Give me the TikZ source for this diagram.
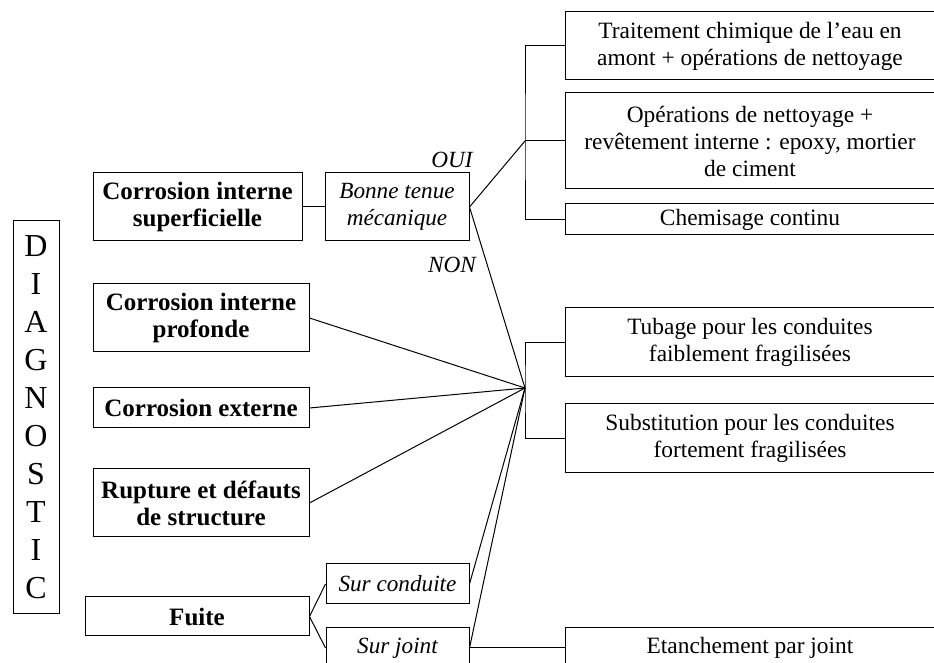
\documentclass[tikz,border=0pt]{standalone}
\usepackage{fontspec}
\setmainfont{Liberation Serif}
\usetikzlibrary{calc}
\tikzset{box/.style={draw, line width=0.5pt, inner sep=1pt, align=center, font=\fontsize{11.7}{13.5}\selectfont}}
\tikzset{diag/.style={box, font=\bfseries\fontsize{12.5}{13.5}\selectfont}}
\tikzset{cond/.style={box, font=\itshape\fontsize{11.6}{13.5}\selectfont}}
\tikzset{sol/.style={box, minimum width=185pt}}
\tikzset{link/.style={line width=0.5pt}}

\begin{document}
\begin{tikzpicture}[x=0.5pt, y=-0.5pt]
    \useasboundingbox (0,0) rectangle (934,663);
    % colonne diagnostic
    \node[box, minimum width=23pt, minimum height=196.5pt, font=\fontsize{16}{19}\selectfont] (dg) at (36,417.5)
      {D\\I\\A\\G\\N\\O\\S\\T\\I\\C};
    % pathologies
    \node[diag, minimum width=104.5pt, minimum height=34pt] (cis) at (197.5,207) {Corrosion interne\\superficielle};
    \node[diag, minimum width=108pt, minimum height=34pt] (cip) at (201,318) {Corrosion interne\\profonde};
    \node[diag, minimum width=108pt, minimum height=20pt] (cex) at (201,408) {Corrosion externe};
    \node[diag, minimum width=108pt, minimum height=34pt] (rup) at (201,503) {Rupture et d\'efauts\\de structure};
    \node[diag, minimum width=112pt, minimum height=19.5pt] (fui) at (197,616.5) {Fuite};
    % conditions
    \node[cond, minimum width=72pt, minimum height=34pt] (btm) at (397,207) {Bonne tenue\\m\'ecanique};
    \node[cond, minimum width=71.5pt, minimum height=20pt] (sco) at (397.5,584) {Sur conduite};
    \node[cond, minimum width=71.5pt, minimum height=20pt] (sjo) at (397.5,648) {Sur joint};
    \node[font=\itshape\fontsize{11.6}{13.5}\selectfont] (oui) at (452,160) {OUI};
    \node[font=\itshape\fontsize{11.6}{13.5}\selectfont] (non) at (452,265) {NON};
    % solutions
    \node[sol, minimum height=34pt] (tra) at (750,46) {Traitement chimique de l'eau en\\amont + op\'erations de nettoyage};
    \node[sol, minimum height=48pt] (ope) at (750,141) {Op\'erations de nettoyage +\\rev\^etement interne : epoxy, mortier\\de ciment};
    \node[sol, minimum height=15.5pt] (che) at (750,219.5) {Chemisage continu};
    \node[sol, minimum height=34.5pt] (tub) at (750,342.5) {Tubage pour les conduites\\faiblement fragilis\'ees};
    \node[sol, minimum height=34.5pt] (sub) at (750,438.5) {Substitution pour les conduites\\fortement fragilis\'ees};
    \node[sol, minimum height=20pt] (eta) at (750,648) {Etanchement par joint};
    % points de jonction
    \coordinate (k1) at (525,141);
    \coordinate (k2) at (525,388);
    % liaisons
    \draw[link] (cis.east) -- (btm.west);
    \draw[link] (btm.east) -- (k1);
    \draw[link] (tra.west) -| (k1) |- (che.west);
    \draw[link] (k1) -- (ope.west);
    \draw[link] (btm.east) -- (k2);
    \draw[link] (cip.east) -- (k2);
    \draw[link] (cex.east) -- (k2);
    \draw[link] (rup.east) -- (k2);
    \draw[link] (fui.east) -- (sco.west);
    \draw[link] (fui.east) -- (sjo.west);
    \draw[link] (sco.east) -- (k2);
    \draw[link] (sjo.east) -- (k2);
    \draw[link] (tub.west) -| (k2) |- (sub.west);
    \draw[link] (sjo.east) -- (eta.west);
\end{tikzpicture}
\end{document}
